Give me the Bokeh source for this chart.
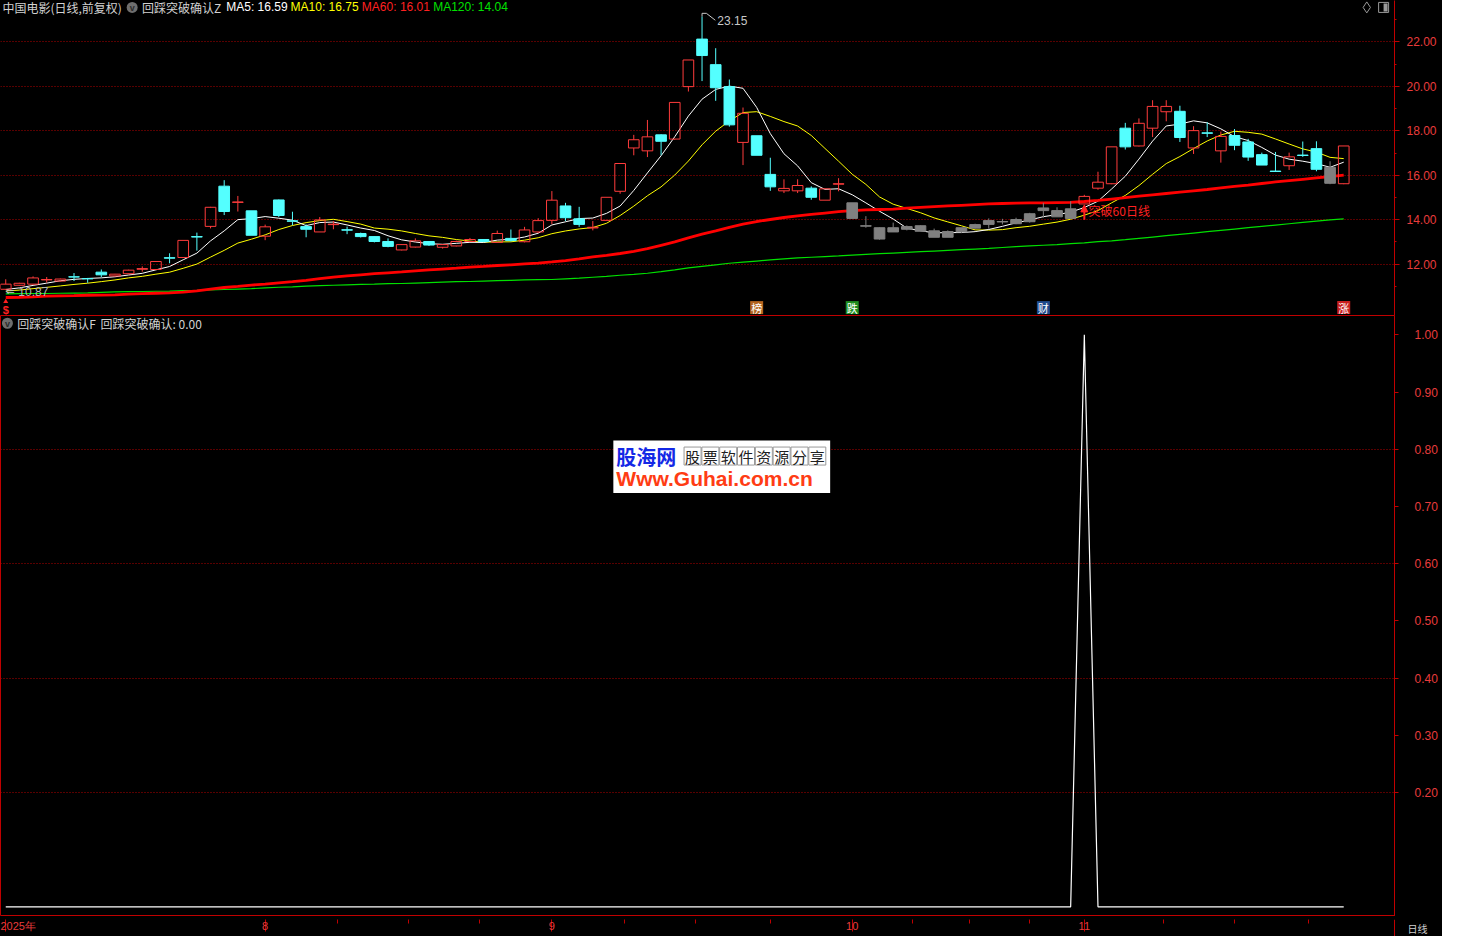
import numpy as np
import pandas as pd
from bokeh.plotting import figure
from bokeh.layouts import column
from bokeh.models import (Range1d, FixedTicker, PrintfTickFormatter,
                          Arrow, NormalHead)
from bokeh.core.properties import value
from bokeh.embed import file_html
from bokeh.resources import INLINE

# ---------------- data ----------------
opens = [10.87, 11.05, 11.10, 11.29, 11.24, 11.43, 11.35, 11.64, 11.47, 11.57,
         11.77, 11.76, 12.29, 12.30, 13.24, 13.70, 15.51, 14.78, 14.40, 13.26,
         14.89, 13.95, 13.69, 13.45, 13.78, 13.55, 13.38, 13.24, 13.02, 12.64,
         12.77, 13.02, 12.76, 12.82, 13.02, 13.11, 12.98, 13.16, 13.01, 13.45,
         13.97, 14.62, 14.04, 13.63, 13.97, 15.28, 17.23, 17.10, 17.82, 17.63,
         19.99, 22.13, 20.98, 19.99, 17.48, 17.78, 16.04, 15.30, 15.30, 15.42,
         14.88, 15.60, 14.76, 13.73, 13.64, 13.45, 13.69, 13.73, 13.50, 13.47,
         13.45, 13.62, 13.79, 13.90, 13.82, 13.91, 14.41, 14.13, 14.06, 14.71,
         15.42, 15.62, 18.12, 17.32, 18.12, 18.86, 18.88, 17.23, 17.91, 17.10,
         17.79, 17.50, 16.93, 16.19, 16.43, 16.91, 17.20, 16.36, 15.62]
highs = [11.32, 11.16, 11.45, 11.42, 11.35, 11.60, 11.38, 11.76, 11.56, 11.75,
         11.90, 12.14, 12.49, 13.07, 13.42, 14.58, 15.78, 15.07, 14.40, 13.78,
         14.91, 14.36, 13.79, 14.12, 13.94, 13.69, 13.42, 13.26, 13.16, 12.90,
         13.16, 13.03, 12.90, 13.06, 13.18, 13.12, 13.51, 13.56, 13.68, 14.07,
         15.29, 14.76, 14.58, 13.94, 15.01, 16.53, 17.82, 18.49, 17.85, 19.28,
         21.19, 23.15, 21.72, 20.31, 19.05, 17.78, 16.79, 15.82, 15.82, 15.50,
         15.41, 15.87, 14.76, 14.16, 13.66, 13.87, 13.74, 13.75, 13.60, 13.52,
         13.64, 13.82, 14.06, 14.04, 14.09, 14.31, 14.76, 14.56, 14.83, 15.12,
         16.16, 17.28, 18.36, 18.56, 19.38, 19.38, 19.13, 18.21, 18.39, 17.97,
         18.08, 17.64, 17.02, 17.05, 17.02, 17.52, 17.53, 16.63, 17.32]
lows = [10.87, 11.03, 11.08, 11.17, 11.22, 11.24, 11.16, 11.42, 11.45, 11.55,
        11.66, 11.74, 12.04, 12.28, 12.61, 13.61, 14.21, 14.37, 13.30, 13.08,
        14.12, 13.75, 13.21, 13.45, 13.57, 13.35, 13.20, 12.98, 12.76, 12.62,
        12.75, 12.82, 12.70, 12.80, 13.00, 13.00, 12.96, 13.02, 12.98, 13.40,
        13.80, 13.94, 13.68, 13.52, 13.96, 15.17, 16.90, 16.82, 16.90, 17.60,
        19.77, 20.24, 19.35, 18.19, 16.46, 16.90, 15.30, 15.20, 15.20, 14.90,
        14.88, 15.28, 14.06, 13.64, 13.10, 13.45, 13.52, 13.48, 13.21, 13.21,
        13.40, 13.60, 13.60, 13.79, 13.80, 13.87, 14.09, 14.13, 14.06, 14.70,
        15.35, 15.60, 17.16, 17.30, 17.72, 18.43, 17.50, 16.96, 17.72, 16.57,
        17.13, 16.65, 16.46, 16.15, 16.24, 16.83, 16.18, 15.60, 15.60]
closes = [11.10, 11.14, 11.38, 11.31, 11.33, 11.42, 11.34, 11.52, 11.55, 11.73,
          11.80, 12.12, 12.27, 13.07, 13.22, 14.56, 14.37, 14.80, 13.30, 13.68,
          14.19, 13.93, 13.57, 13.99, 13.80, 13.53, 13.24, 13.02, 12.80, 12.88,
          13.05, 12.86, 12.88, 13.02, 13.11, 13.02, 13.38, 13.06, 13.54, 13.96,
          14.88, 14.09, 13.79, 13.66, 15.01, 16.53, 17.60, 17.73, 17.53, 19.28,
          21.19, 21.39, 19.94, 18.27, 18.79, 16.90, 15.48, 15.41, 15.54, 15.01,
          15.39, 15.62, 14.06, 13.71, 13.13, 13.64, 13.57, 13.48, 13.21, 13.21,
          13.64, 13.78, 13.96, 13.92, 14.01, 14.27, 14.53, 14.41, 14.49, 15.05,
          15.69, 17.28, 17.28, 18.34, 19.10, 19.10, 17.70, 18.01, 17.89, 17.75,
          17.35, 16.82, 16.46, 16.17, 16.83, 16.89, 16.27, 15.64, 17.32]
# closes before the visible window (needed to start the 5/10-day averages)
prior_closes = [10.70, 10.74, 10.72, 10.70, 10.74, 10.78, 10.82, 10.80, 10.80]
ma60 = [10.50, 10.51, 10.53, 10.56, 10.57, 10.58, 10.60, 10.61, 10.62, 10.65,
        10.67, 10.69, 10.71, 10.74, 10.80, 10.88, 10.95, 11.00, 11.06, 11.10,
        11.16, 11.21, 11.27, 11.35, 11.42, 11.47, 11.52, 11.57, 11.61, 11.65,
        11.70, 11.74, 11.78, 11.82, 11.87, 11.90, 11.94, 11.97, 12.01, 12.05,
        12.10, 12.16, 12.24, 12.33, 12.40, 12.48, 12.58, 12.70, 12.85, 13.00,
        13.18, 13.35, 13.50, 13.66, 13.80, 13.92, 14.01, 14.10, 14.17, 14.24,
        14.30, 14.36, 14.41, 14.44, 14.46, 14.48, 14.52, 14.56, 14.59, 14.62,
        14.65, 14.68, 14.71, 14.73, 14.75, 14.76, 14.76, 14.77, 14.78, 14.82,
        14.87, 14.93, 14.99, 15.06, 15.12, 15.18, 15.24, 15.30, 15.36, 15.43,
        15.50, 15.56, 15.63, 15.70, 15.76, 15.82, 15.88, 15.94, 16.01]
ma120 = [10.66, 10.67, 10.68, 10.68, 10.69, 10.70, 10.71, 10.73, 10.75, 10.76,
         10.77, 10.78, 10.79, 10.81, 10.82, 10.84, 10.86, 10.88, 10.90, 10.93,
         10.96, 10.98, 11.01, 11.03, 11.05, 11.07, 11.09, 11.10, 11.12, 11.13,
         11.15, 11.17, 11.19, 11.21, 11.22, 11.24, 11.26, 11.27, 11.29, 11.30,
         11.31, 11.34, 11.37, 11.41, 11.45, 11.50, 11.54, 11.59, 11.66, 11.74,
         11.83, 11.90, 11.97, 12.04, 12.09, 12.14, 12.19, 12.24, 12.28, 12.31,
         12.34, 12.37, 12.41, 12.44, 12.47, 12.50, 12.53, 12.56, 12.59, 12.62,
         12.65, 12.68, 12.71, 12.75, 12.79, 12.82, 12.85, 12.88, 12.92, 12.96,
         13.01, 13.05, 13.10, 13.16, 13.22, 13.28, 13.34, 13.40, 13.46, 13.52,
         13.58, 13.64, 13.70, 13.76, 13.82, 13.88, 13.94, 13.99, 14.04]
signal = [0] * 79 + [1] + [0] * 19          # 回踩突破确认 (fires once, on bar 79)

month_ticks = [0, 19, 40, 62, 79]
month_labels = ["2025年", "8", "9", "10", "11"]
week_ticks = [24.3, 29.5, 34.7, 45.3, 50.5, 56.0, 66.4, 70.6, 75.0, 84.8, 90.0, 95.4]
price_ticks = [12, 14, 16, 18, 20, 22]
price_minor = [11, 13, 15, 17, 19, 21, 23]
sig_ticks = [0.2, 0.3, 0.4, 0.5, 0.6, 0.7, 0.8, 0.9, 1.0]
sig_grid = [0.2, 0.4, 0.6, 0.8]
event_idx = [0, 55, 62, 76, 98]
event_txt = ["$", "榜", "跌", "财", "涨"]
event_bg = [None, "#B4641E", "#1E8C1E", "#1E4A8C", "#C81E1E"]
breakout_idx = 79

# ---------------- styling ----------------
W, TOP_H, STRIP_H, AXIS_W = 1442, 315, 20, 48
BOT_H = 936 - TOP_H - STRIP_H
FRAME_W = W - AXIS_W
BG = "black"
AXIS_RED = "#C00000"
LABEL_RED = "#E83C3C"
GRID_RED = "#B00000"
UP_RED = "#FF3C3C"
CYAN = "#54FFFF"
GRAY = "#808080"
TXT = "#D2D2D2"
CJK = "Noto Sans CJK SC"
LAT = "Liberation Sans"

# reference-pixel helpers (positions of decorations only)
def ix(px):
    return (px - 5.3) / 13.79

def tv(py):
    return 23.867 - py / 22.5

def bv(py):
    return (930.0 - py) / 590.0

def txt(p, x, y, s, color, size="12px", font=CJK, align="left",
        baseline="middle", style="normal"):
    p.text(x=[x], y=[y], text=[s], text_color=color, text_font=value(font),
           text_font_size=value(size), text_align=align,
           text_baseline=baseline, text_font_style=style)

n = len(closes)
idx = np.arange(n)
o, h, l, c = map(np.array, (opens, highs, lows, closes))
allc = pd.Series(prior_closes + closes)
k = len(prior_closes)
ma5 = allc.rolling(5).mean().to_numpy()[k:]
ma10 = allc.rolling(10).mean().to_numpy()[k:]
m60 = np.array(ma60)
m120 = np.array(ma120)
body_top = np.maximum(o, c)
body_bot = np.minimum(o, c)
weak = c < m60
up = (c >= o) & ~weak
down = (c < o) & ~weak

X0, X1 = ix(0), ix(1408)
xr = Range1d(X0, X1)

# ---------------- top: price panel ----------------
top = figure(width=W, height=TOP_H, x_range=xr, y_range=Range1d(tv(319), tv(0)),
             output_backend="svg", toolbar_location=None,
             x_axis_location=None, y_axis_location="right",
             min_border_left=0, min_border_top=0, min_border_bottom=0,
             min_border_right=AXIS_W, background_fill_color=BG,
             border_fill_color=BG, outline_line_color=None)

ya = top.yaxis[0]
ya.ticker = FixedTicker(ticks=price_ticks, minor_ticks=price_minor)
ya.formatter = PrintfTickFormatter(format="%.2f")
ya.axis_line_color = AXIS_RED
ya.major_tick_line_color = AXIS_RED
ya.minor_tick_line_color = AXIS_RED
ya.major_tick_out, ya.major_tick_in = 5, 0
ya.minor_tick_out, ya.minor_tick_in = 2, 0
ya.major_label_text_color = LABEL_RED
ya.major_label_text_font = LAT
ya.major_label_text_font_size = "12px"
ya.major_label_standoff = 7
top.ygrid.ticker = FixedTicker(ticks=price_ticks)
top.ygrid.grid_line_color = GRID_RED
top.ygrid.grid_line_dash = "1 2"
top.ygrid.grid_line_width = 1
for g in top.xgrid:
    g.visible = False

top.line(idx, m120, line_color="#00E000", line_width=1.2)
top.line(idx, ma10, line_color="#FFFF00", line_width=1)
top.line(idx, ma5, line_color="white", line_width=1)
top.line(idx, m60, line_color="#FF0000", line_width=2.8)

for mask, col, fill in ((up, UP_RED, None), (down, CYAN, CYAN), (weak, GRAY, GRAY)):
    sel = np.where(mask)[0]
    top.segment(sel, h[sel], sel, body_top[sel], line_color=col, line_width=1)
    top.segment(sel, body_bot[sel], sel, l[sel], line_color=col, line_width=1)
    top.vbar(x=sel, width=0.78, top=body_top[sel], bottom=body_bot[sel],
             fill_color=fill or BG, fill_alpha=1 if fill else 0,
             line_color=col, line_width=1)

# header
HY = tv(7)
txt(top, ix(2), HY, "中国电影(日线,前复权)", TXT)
top.scatter([ix(133)], [HY], marker="circle", size=11, fill_color="#6E6E6E", line_color=None)
txt(top, ix(133), tv(7.5), "v", "#2A2A2A", size="9px", font=LAT, align="center", style="bold")
txt(top, ix(143), HY, "回踩突破确认Z", TXT)
txt(top, ix(228), HY, f"MA5: {ma5[-1]:.2f}", "white", font=LAT)
txt(top, ix(293), HY, f"MA10: {ma10[-1]:.2f}", "#FFFF00", font=LAT)
txt(top, ix(365), HY, f"MA60: {m60[-1]:.2f}", "#FF2020", font=LAT)
txt(top, ix(437), HY, f"MA120: {m120[-1]:.2f}", "#00E000", font=LAT)
# top-right small icons
top.scatter([ix(1380)], [HY], marker="diamond", size=11, fill_alpha=0, line_color="#9A9A9A")
top.scatter([ix(1397)], [HY], marker="square", size=10, fill_alpha=0, line_color="#9A9A9A")
top.rect([ix(1399)], [HY], width=4, height=8, width_units="screen",
         height_units="screen", fill_color="#9A9A9A", line_color=None)

# extreme labels
imax = int(np.argmax(h))
imin = int(np.argmin(l))
top.line([imax, imax, ix(713), ix(722)], [h[imax], tv(13), tv(13), tv(20)],
         line_color="#C8C8C8", line_width=1)
txt(top, ix(724), tv(20), f"{h[imax]:.2f}", "#C8C8C8", font=LAT)
txt(top, ix(5), tv(295), "⇐", "#C8C8C8", size="11px", font="DejaVu Sans")
txt(top, ix(18), tv(295), f"{l[imin]:.2f}", "#B4B4B4", font=LAT)

# breakout annotation
top.add_layout(Arrow(end=NormalHead(size=7, fill_color="#FF2020", line_color="#FF2020"),
                     x_start=breakout_idx, y_start=tv(222), x_end=breakout_idx, y_end=tv(207),
                     line_color="#FF2020", line_width=2))
txt(top, ix(1099), tv(213), "突破60日线", "#FF2020")

# event icons row
for i, s, bg in zip(event_idx, event_txt, event_bg):
    if bg is None:
        top.scatter([i], [tv(305)], marker="triangle", size=5, fill_color="#FF2020", line_color=None)
        txt(top, i, tv(313), s, "#FF2020", size="11px", font=LAT, align="center", style="bold")
    else:
        top.rect([i], [tv(311)], width=13, height=13, width_units="screen",
                 height_units="screen", fill_color=bg, line_color=None)
        txt(top, i, tv(311), s, "white", size="11px", align="center")

# ---------------- bottom: signal panel ----------------
bot = figure(width=W, height=BOT_H, x_range=xr, y_range=Range1d(bv(940), bv(320)),
             output_backend="svg", toolbar_location=None,
             x_axis_location=None, y_axis_location="right",
             min_border_left=0, min_border_top=0, min_border_bottom=0,
             min_border_right=AXIS_W, background_fill_color=BG,
             border_fill_color=BG, outline_line_color=AXIS_RED)

yb = bot.yaxis[0]
yb.ticker = FixedTicker(ticks=sig_ticks)
yb.formatter = PrintfTickFormatter(format="%.2f")
yb.axis_line_color = AXIS_RED
yb.major_tick_line_color = AXIS_RED
yb.major_tick_out, yb.major_tick_in = 4, 0
yb.minor_tick_line_color = None
yb.major_label_text_color = LABEL_RED
yb.major_label_text_font = LAT
yb.major_label_text_font_size = "12px"
yb.major_label_standoff = 16
bot.ygrid.ticker = FixedTicker(ticks=sig_grid)
bot.ygrid.grid_line_color = GRID_RED
bot.ygrid.grid_line_dash = "1 2"
for g in bot.xgrid:
    g.visible = False

bot.line(idx, signal, line_color="white", line_width=1.2)

# header
BY = bv(328)
bot.scatter([ix(7)], [BY], marker="circle", size=11, fill_color="#6E6E6E", line_color=None)
txt(bot, ix(7), bv(328.5), "v", "#2A2A2A", size="9px", font=LAT, align="center", style="bold")
txt(bot, ix(17), BY, "回踩突破确认F", TXT)
txt(bot, ix(101), BY, f"回踩突破确认: {signal[-1]:.2f}", TXT)

# watermark
bot.rect([ix(728.5)], [bv(476)], width=ix(838) - ix(619), height=bv(449) - bv(503),
         fill_color="white", line_color=None)
txt(bot, ix(622), bv(465), "股海网", "#1428E6", size="20px", style="bold")
cells = "股票软件资源分享"
for j, ch in enumerate(cells):
    cx = ix(690 + 9 + 18 * j)
    bot.rect([cx], [bv(465)], width=17, height=18, width_units="screen",
             height_units="screen", fill_alpha=0, line_color="#9A9A9A")
    txt(bot, cx, bv(465), ch, "#202020", size="15px", align="center")
txt(bot, ix(622), bv(488), "Www.Guhai.com.cn", "#FF3C14", size="21px", font=LAT, style="bold")

# ---------------- date strip: the time axis, full width ----------------
full_width = hasattr(figure(), "frame_align")
XS1 = X0 + (X1 - X0) * W / FRAME_W if full_width else X1
strip = figure(width=W, height=STRIP_H, x_range=Range1d(X0, XS1), y_range=Range1d(0, 1),
               output_backend="svg", toolbar_location=None,
               x_axis_location="above", y_axis_location=None,
               min_border_left=0, min_border_top=0, min_border_bottom=0,
               min_border_right=0, background_fill_color=BG,
               border_fill_color=BG, outline_line_color=None)
if full_width:
    strip.frame_align = False
for g in list(strip.xgrid) + list(strip.ygrid):
    g.visible = False
sa = strip.xaxis[0]
sa.ticker = FixedTicker(ticks=month_ticks, minor_ticks=week_ticks)
sa.major_label_overrides = {t: s for t, s in zip(month_ticks, month_labels)}
sa.axis_line_color = None
sa.major_tick_out, sa.major_tick_in = 0, 12
sa.minor_tick_out, sa.minor_tick_in = 0, 4
sa.major_tick_line_color = AXIS_RED
sa.minor_tick_line_color = AXIS_RED
sa.major_label_text_align = "left"
sa.major_label_text_baseline = "bottom"
sa.major_label_standoff = -12
sa.major_label_text_color = LABEL_RED
sa.major_label_text_font = LAT
sa.major_label_text_font_size = "11px"
if full_width:
    strip.segment([X1], [0], [X1], [1], line_color=AXIS_RED, line_width=1)
    txt(strip, X0 + (X1 - X0) * (FRAME_W + 13) / FRAME_W, 0.5, "日线", "#D0D0D0", size="10px")
else:
    txt(strip, X1, 0.5, "日线", "#D0D0D0", size="10px", align="right")

layout = column(top, bot, strip, spacing=0, styles={"background-color": "black"})
open("out.html", "w").write(file_html(layout, INLINE))
